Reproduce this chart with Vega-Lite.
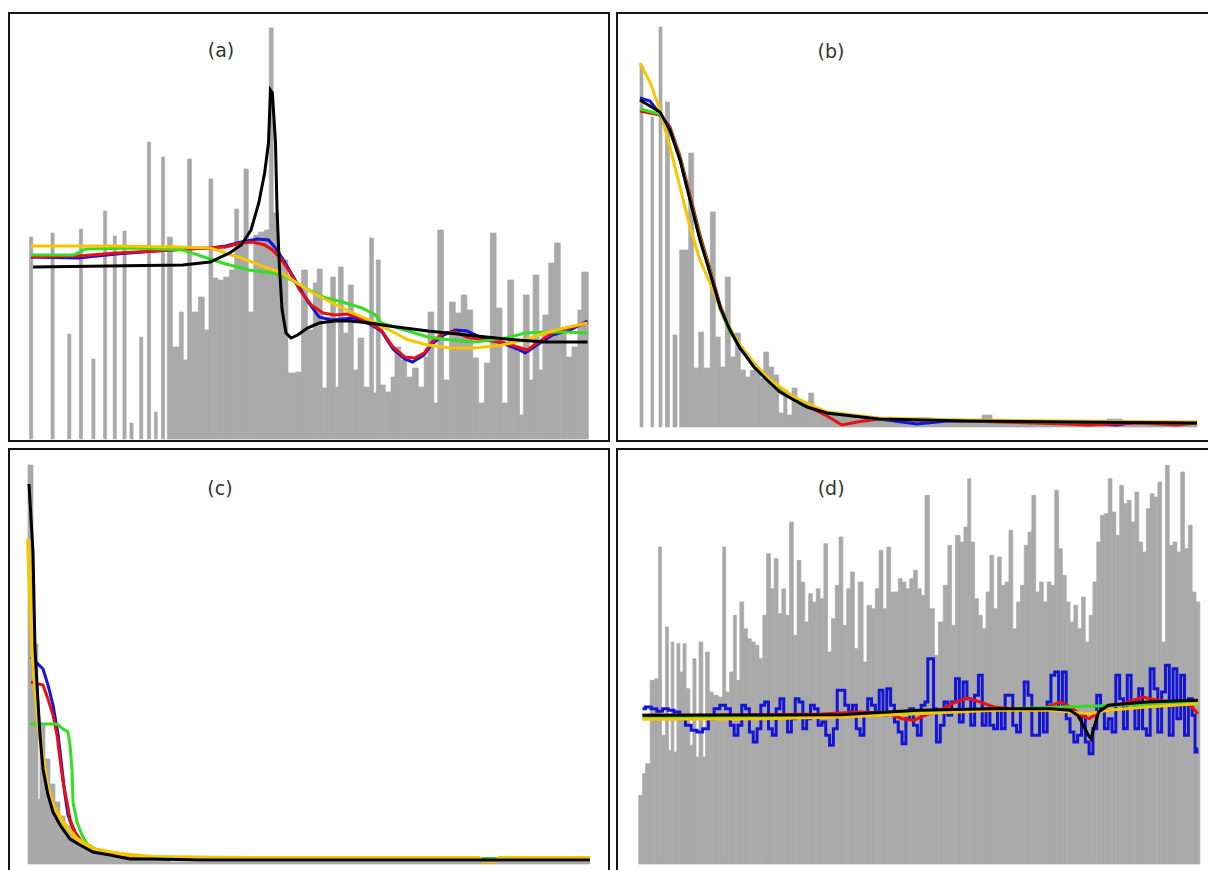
{
 "$schema": "https://vega.github.io/schema/vega-lite/v6.json",
 "background": "white",
 "padding": {"left": 8, "top": 12, "right": 0, "bottom": 0},
 "config": {"view": {"stroke": "#161616", "strokeWidth": 2}, "rect": {"color": "#a9a9a9", "stroke": "#a9a9a9", "strokeWidth": 0.7}},
 "spacing": 6,
 "resolve": {"scale": {"x": "independent", "y": "independent"}},
 "datasets": {
  "aB": [
   {"t":76,"t2":84,"v":202},{"t":131,"t2":139,"v":206},{"t":174,"t2":182,"v":105},{"t":204,"t2":212,"v":210},{"t":236,"t2":244,"v":80},{"t":266,"t2":274,"v":228},{"t":291,"t2":299,"v":203},{"t":316,"t2":324,"v":208},{"t":334,"t2":342,"v":16},{"t":359,"t2":367,"v":102},{"t":379,"t2":387,"v":297},{"t":397,"t2":404,"v":27},{"t":415,"t2":423,"v":282},
   {"t":430,"t2":443,"v":202},{"t":443,"t2":461,"v":92},{"t":461,"t2":471,"v":127},{"t":471,"t2":482,"v":79},{"t":482,"t2":492,"v":280},{"t":492,"t2":510,"v":127},{"t":510,"t2":525,"v":142},{"t":525,"t2":537,"v":109},{"t":537,"t2":547,"v":260},{"t":547,"t2":560,"v":161},
   {"t":560,"t2":575,"v":159},{"t":575,"t2":590,"v":162},{"t":590,"t2":603,"v":169},{"t":603,"t2":613,"v":230},{"t":613,"t2":627,"v":194},{"t":627,"t2":638,"v":270},{"t":638,"t2":652,"v":127},{"t":652,"t2":665,"v":204},{"t":665,"t2":680,"v":207},{"t":680,"t2":692,"v":209},{"t":692,"t2":702,"v":411},{"t":702,"t2":715,"v":226},{"t":715,"t2":728,"v":182},{"t":728,"t2":740,"v":179},{"t":740,"t2":760,"v":66},{"t":760,"t2":775,"v":67},{"t":775,"t2":790,"v":169},{"t":790,"t2":805,"v":109},{"t":805,"t2":815,"v":156},{"t":815,"t2":828,"v":170},{"t":828,"t2":840,"v":51},{"t":840,"t2":850,"v":122},{"t":850,"t2":862,"v":162},{"t":862,"t2":870,"v":52},{"t":870,"t2":882,"v":172},{"t":882,"t2":895,"v":106},{"t":895,"t2":908,"v":154},{"t":908,"t2":920,"v":69},{"t":920,"t2":935,"v":101},{"t":935,"t2":950,"v":52},{"t":950,"t2":960,"v":201},{"t":960,"t2":967,"v":46},{"t":967,"t2":977,"v":179},{"t":977,"t2":990,"v":54},{"t":990,"t2":1005,"v":47},{"t":1005,"t2":1015,"v":62},{"t":1015,"t2":1030,"v":92},{"t":1030,"t2":1045,"v":79},{"t":1045,"t2":1060,"v":62},{"t":1060,"t2":1075,"v":71},{"t":1075,"t2":1090,"v":52},{"t":1090,"t2":1100,"v":82},{"t":1100,"t2":1115,"v":127},{"t":1115,"t2":1125,"v":36},{"t":1125,"t2":1140,"v":209},{"t":1140,"t2":1155,"v":59},{"t":1155,"t2":1170,"v":137},{"t":1170,"t2":1185,"v":126},{"t":1185,"t2":1200,"v":144},{"t":1200,"t2":1215,"v":129},{"t":1215,"t2":1230,"v":81},{"t":1230,"t2":1245,"v":36},{"t":1245,"t2":1260,"v":76},{"t":1260,"t2":1275,"v":206},{"t":1275,"t2":1290,"v":131},{"t":1290,"t2":1305,"v":36},{"t":1305,"t2":1320,"v":159},{"t":1320,"t2":1335,"v":92},{"t":1335,"t2":1345,"v":24},{"t":1345,"t2":1360,"v":144},{"t":1360,"t2":1370,"v":59},{"t":1370,"t2":1385,"v":164},{"t":1385,"t2":1395,"v":69},{"t":1395,"t2":1410,"v":124},{"t":1410,"t2":1425,"v":176},{"t":1425,"t2":1440,"v":196},{"t":1440,"t2":1455,"v":106},{"t":1455,"t2":1470,"v":82},{"t":1470,"t2":1485,"v":92},{"t":1485,"t2":1495,"v":129},{"t":1495,"t2":1512,"v":167}
  ],
  "aL": [
   {"s":"b","t":80,"v":182},{"s":"b","t":200,"v":181},{"s":"b","t":300,"v":185},{"s":"b","t":400,"v":188},{"s":"b","t":480,"v":190},{"s":"b","t":540,"v":191},{"s":"b","t":580,"v":193},{"s":"b","t":620,"v":197},{"s":"b","t":660,"v":200},{"s":"b","t":690,"v":199},{"s":"b","t":710,"v":190},{"s":"b","t":730,"v":178},{"s":"b","t":760,"v":158},{"s":"b","t":790,"v":138},{"s":"b","t":820,"v":122},{"s":"b","t":850,"v":119},{"s":"b","t":880,"v":120},{"s":"b","t":910,"v":121},{"s":"b","t":950,"v":115},{"s":"b","t":980,"v":108},{"s":"b","t":1010,"v":90},{"s":"b","t":1040,"v":80},{"s":"b","t":1060,"v":77},{"s":"b","t":1090,"v":84},{"s":"b","t":1110,"v":95},{"s":"b","t":1140,"v":104},{"s":"b","t":1170,"v":109},{"s":"b","t":1200,"v":108},{"s":"b","t":1240,"v":101},{"s":"b","t":1290,"v":96},{"s":"b","t":1330,"v":90},{"s":"b","t":1350,"v":86},{"s":"b","t":1380,"v":94},{"s":"b","t":1420,"v":104},{"s":"b","t":1470,"v":110},{"s":"b","t":1510,"v":118},
   {"s":"r","t":80,"v":182},{"s":"r","t":200,"v":183},{"s":"r","t":300,"v":186},{"s":"r","t":400,"v":188},{"s":"r","t":480,"v":190},{"s":"r","t":540,"v":191},{"s":"r","t":580,"v":192},{"s":"r","t":620,"v":196},{"s":"r","t":650,"v":197},{"s":"r","t":680,"v":194},{"s":"r","t":700,"v":189},{"s":"r","t":720,"v":181},{"s":"r","t":745,"v":167},{"s":"r","t":770,"v":149},{"s":"r","t":800,"v":134},{"s":"r","t":830,"v":126},{"s":"r","t":860,"v":124},{"s":"r","t":890,"v":125},{"s":"r","t":920,"v":122},{"s":"r","t":950,"v":116},{"s":"r","t":980,"v":109},{"s":"r","t":1010,"v":92},{"s":"r","t":1040,"v":82},{"s":"r","t":1065,"v":81},{"s":"r","t":1090,"v":86},{"s":"r","t":1110,"v":97},{"s":"r","t":1140,"v":106},{"s":"r","t":1170,"v":107},{"s":"r","t":1200,"v":102},{"s":"r","t":1240,"v":99},{"s":"r","t":1290,"v":97},{"s":"r","t":1330,"v":92},{"s":"r","t":1355,"v":89},{"s":"r","t":1380,"v":96},{"s":"r","t":1420,"v":106},{"s":"r","t":1470,"v":112},{"s":"r","t":1510,"v":116},
   {"s":"g","t":80,"v":184},{"s":"g","t":190,"v":184},{"s":"g","t":220,"v":190},{"s":"g","t":350,"v":191},{"s":"g","t":470,"v":189},{"s":"g","t":540,"v":180},{"s":"g","t":580,"v":175},{"s":"g","t":640,"v":169},{"s":"g","t":700,"v":166},{"s":"g","t":740,"v":161},{"s":"g","t":780,"v":152},{"s":"g","t":830,"v":142},{"s":"g","t":880,"v":137},{"s":"g","t":930,"v":131},{"s":"g","t":965,"v":124},{"s":"g","t":980,"v":116},{"s":"g","t":1040,"v":109},{"s":"g","t":1100,"v":102},{"s":"g","t":1160,"v":99},{"s":"g","t":1220,"v":97},{"s":"g","t":1300,"v":101},{"s":"g","t":1350,"v":106},{"s":"g","t":1400,"v":107},{"s":"g","t":1450,"v":107},{"s":"g","t":1510,"v":106},
   {"s":"y","t":80,"v":193},{"s":"y","t":300,"v":193},{"s":"y","t":450,"v":192},{"s":"y","t":540,"v":191},{"s":"y","t":580,"v":186},{"s":"y","t":620,"v":181},{"s":"y","t":680,"v":172},{"s":"y","t":720,"v":167},{"s":"y","t":760,"v":157},{"s":"y","t":800,"v":147},{"s":"y","t":850,"v":137},{"s":"y","t":900,"v":127},{"s":"y","t":950,"v":119},{"s":"y","t":1000,"v":109},{"s":"y","t":1050,"v":99},{"s":"y","t":1100,"v":94},{"s":"y","t":1160,"v":91},{"s":"y","t":1220,"v":91},{"s":"y","t":1290,"v":94},{"s":"y","t":1350,"v":99},{"s":"y","t":1400,"v":106},{"s":"y","t":1450,"v":111},{"s":"y","t":1510,"v":116},
   {"s":"k","t":85,"v":172},{"s":"k","t":470,"v":174},{"s":"k","t":540,"v":177},{"s":"k","t":590,"v":186},{"s":"k","t":620,"v":194},{"s":"k","t":645,"v":209},{"s":"k","t":665,"v":236},{"s":"k","t":680,"v":266},{"s":"k","t":690,"v":296},{"s":"k","t":695,"v":349},{"s":"k","t":700,"v":346},{"s":"k","t":708,"v":296},{"s":"k","t":712,"v":229},{"s":"k","t":718,"v":172},{"s":"k","t":725,"v":129},{"s":"k","t":735,"v":106},{"s":"k","t":748,"v":101},{"s":"k","t":765,"v":104},{"s":"k","t":790,"v":111},{"s":"k","t":820,"v":116},{"s":"k","t":860,"v":118},{"s":"k","t":900,"v":118},{"s":"k","t":950,"v":116},{"s":"k","t":1000,"v":113},{"s":"k","t":1100,"v":108},{"s":"k","t":1200,"v":104},{"s":"k","t":1300,"v":100},{"s":"k","t":1400,"v":97},{"s":"k","t":1510,"v":97}
  ],
  "bB": [
   {"t":23,"t2":26,"v":362},{"t":34,"t2":36.7,"v":310},{"t":42,"t2":45,"v":400},{"t":48.5,"t2":52.5,"v":325},{"t":56,"t2":60,"v":92},{"t":62.7,"t2":71.7,"v":177},{"t":71.7,"t2":76.7,"v":274},{"t":76.7,"t2":81.7,"v":59},{"t":81.7,"t2":86.7,"v":95},{"t":86.7,"t2":93.3,"v":59},{"t":93.3,"t2":98.3,"v":215},{"t":98.3,"t2":103.3,"v":90},{"t":103.3,"t2":108.3,"v":60},{"t":108.3,"t2":113.3,"v":150},{"t":113.3,"t2":118.3,"v":70},{"t":118.3,"t2":123.3,"v":94},{"t":123.3,"t2":128.3,"v":57},{"t":128.3,"t2":133.3,"v":50},{"t":133.3,"t2":138.3,"v":57},{"t":138.3,"t2":143.3,"v":55},{"t":143.3,"t2":146.7,"v":49},{"t":146.7,"t2":151.7,"v":75},{"t":151.7,"t2":156.7,"v":60},{"t":156.7,"t2":161.7,"v":52},{"t":161.7,"t2":166.7,"v":14},{"t":166.7,"t2":170,"v":37},{"t":170,"t2":175,"v":12},{"t":175,"t2":180,"v":39},{"t":180,"t2":185,"v":27},{"t":185,"t2":191.7,"v":25},{"t":191.7,"t2":196.7,"v":34},{"t":196.7,"t2":201.7,"v":19},{"t":201.7,"t2":210,"v":16},{"t":210,"t2":225,"v":14},{"t":225,"t2":240,"v":10},{"t":240,"t2":260,"v":8},{"t":260,"t2":280,"v":7},{"t":280,"t2":300,"v":6},{"t":300,"t2":315,"v":9},{"t":315,"t2":330,"v":6},{"t":330,"t2":350,"v":5},{"t":350,"t2":365,"v":7},{"t":365,"t2":375,"v":12},{"t":375,"t2":395,"v":5},{"t":395,"t2":415,"v":6},{"t":415,"t2":435,"v":4},{"t":435,"t2":455,"v":6},{"t":455,"t2":475,"v":4},{"t":475,"t2":490,"v":5},{"t":490,"t2":505,"v":8},{"t":505,"t2":525,"v":4},{"t":525,"t2":545,"v":5},{"t":545,"t2":565,"v":6},{"t":565,"t2":580,"v":5}
  ],
  "bL": [
   {"s":"b","t":23,"v":329},{"s":"b","t":33,"v":326},{"s":"b","t":43,"v":313},{"s":"b","t":53,"v":296},{"s":"b","t":63,"v":268},{"s":"b","t":73,"v":229},{"s":"b","t":83,"v":189},{"s":"b","t":93,"v":156},{"s":"b","t":103,"v":121},{"s":"b","t":113,"v":97},{"s":"b","t":123,"v":79},{"s":"b","t":137,"v":61},{"s":"b","t":150,"v":48},{"s":"b","t":163,"v":36},{"s":"b","t":177,"v":28},{"s":"b","t":190,"v":21},{"s":"b","t":210,"v":14},{"s":"b","t":262,"v":8},{"s":"b","t":300,"v":3},{"s":"b","t":330,"v":6},{"s":"b","t":350,"v":6},{"s":"b","t":450,"v":5},{"s":"b","t":500,"v":2},{"s":"b","t":520,"v":5},{"s":"b","t":580,"v":4},
   {"s":"r","t":23,"v":316},{"s":"r","t":33,"v":314},{"s":"r","t":43,"v":312},{"s":"r","t":53,"v":300},{"s":"r","t":63,"v":271},{"s":"r","t":73,"v":232},{"s":"r","t":83,"v":192},{"s":"r","t":93,"v":158},{"s":"r","t":103,"v":122},{"s":"r","t":113,"v":98},{"s":"r","t":123,"v":80},{"s":"r","t":137,"v":62},{"s":"r","t":150,"v":48},{"s":"r","t":163,"v":37},{"s":"r","t":177,"v":29},{"s":"r","t":190,"v":21},{"s":"r","t":210,"v":11},{"s":"r","t":225,"v":2},{"s":"r","t":240,"v":5},{"s":"r","t":262,"v":8},{"s":"r","t":350,"v":6},{"s":"r","t":450,"v":3},{"s":"r","t":470,"v":2},{"s":"r","t":520,"v":4},{"s":"r","t":560,"v":2},{"s":"r","t":580,"v":4},
   {"s":"g","t":23,"v":318},{"s":"g","t":43,"v":313},{"s":"g","t":53,"v":297},{"s":"g","t":63,"v":268},{"s":"g","t":73,"v":228},{"s":"g","t":83,"v":188},{"s":"g","t":93,"v":156},{"s":"g","t":103,"v":118},{"s":"g","t":113,"v":95},{"s":"g","t":123,"v":80},{"s":"g","t":137,"v":60},{"s":"g","t":150,"v":48},{"s":"g","t":163,"v":36},{"s":"g","t":177,"v":27},{"s":"g","t":190,"v":21},{"s":"g","t":210,"v":14},{"s":"g","t":262,"v":8},{"s":"g","t":350,"v":6},{"s":"g","t":450,"v":5},{"s":"g","t":580,"v":4},
   {"s":"y","t":23,"v":364},{"s":"y","t":33,"v":345},{"s":"y","t":43,"v":317},{"s":"y","t":53,"v":280},{"s":"y","t":63,"v":240},{"s":"y","t":73,"v":200},{"s":"y","t":83,"v":167},{"s":"y","t":93,"v":144},{"s":"y","t":103,"v":120},{"s":"y","t":113,"v":99},{"s":"y","t":123,"v":82},{"s":"y","t":137,"v":64},{"s":"y","t":150,"v":50},{"s":"y","t":163,"v":40},{"s":"y","t":177,"v":30},{"s":"y","t":190,"v":24},{"s":"y","t":210,"v":15},{"s":"y","t":262,"v":9},{"s":"y","t":350,"v":7},{"s":"y","t":450,"v":6},{"s":"y","t":580,"v":5},
   {"s":"k","t":23,"v":327},{"s":"k","t":43,"v":315},{"s":"k","t":53,"v":297},{"s":"k","t":63,"v":267},{"s":"k","t":73,"v":227},{"s":"k","t":83,"v":187},{"s":"k","t":93,"v":154},{"s":"k","t":103,"v":120},{"s":"k","t":113,"v":97},{"s":"k","t":123,"v":79},{"s":"k","t":137,"v":60},{"s":"k","t":150,"v":47},{"s":"k","t":163,"v":35},{"s":"k","t":177,"v":27},{"s":"k","t":190,"v":20},{"s":"k","t":210,"v":14},{"s":"k","t":262,"v":8},{"s":"k","t":350,"v":6},{"s":"k","t":450,"v":5},{"s":"k","t":580,"v":4}
  ],
  "cB": [
   {"t":19,"t2":24,"v":399},{"t":24,"t2":29,"v":220},{"t":29,"t2":31,"v":65},{"t":31,"t2":36,"v":140},{"t":36,"t2":41,"v":105},{"t":41,"t2":46,"v":80},{"t":46,"t2":51,"v":62},{"t":51,"t2":56,"v":48},{"t":56,"t2":61,"v":38},{"t":61,"t2":66,"v":30},{"t":66,"t2":71,"v":24},{"t":71,"t2":77,"v":19},{"t":77,"t2":83,"v":15},{"t":83,"t2":91,"v":12},{"t":91,"t2":101,"v":9},{"t":101,"t2":116,"v":7},{"t":116,"t2":136,"v":5},{"t":136,"t2":161,"v":4},{"t":161,"t2":581,"v":2}
  ],
  "cL": [
   {"s":"b","t":22,"v":207},{"s":"b","t":34,"v":195},{"s":"b","t":39,"v":179},{"s":"b","t":44,"v":159},{"s":"b","t":49,"v":130},{"s":"b","t":53,"v":95},{"s":"b","t":56,"v":69},{"s":"b","t":59,"v":49},{"s":"b","t":64,"v":35},{"s":"b","t":71,"v":24},{"s":"b","t":84,"v":14},{"s":"b","t":111,"v":9},{"s":"b","t":144,"v":6},{"s":"b","t":581,"v":5},
   {"s":"r","t":22,"v":182},{"s":"r","t":34,"v":179},{"s":"r","t":39,"v":165},{"s":"r","t":44,"v":149},{"s":"r","t":48,"v":129},{"s":"r","t":51,"v":105},{"s":"r","t":54,"v":82},{"s":"r","t":58,"v":62},{"s":"r","t":61,"v":45},{"s":"r","t":66,"v":32},{"s":"r","t":73,"v":22},{"s":"r","t":84,"v":14},{"s":"r","t":111,"v":9},{"s":"r","t":144,"v":6},{"s":"r","t":581,"v":5},
   {"s":"g","t":21,"v":140},{"s":"g","t":48,"v":140},{"s":"g","t":54,"v":135},{"s":"g","t":59,"v":132},{"s":"g","t":61,"v":119},{"s":"g","t":63,"v":95},{"s":"g","t":64,"v":62},{"s":"g","t":68,"v":42},{"s":"g","t":73,"v":29},{"s":"g","t":78,"v":20},{"s":"g","t":88,"v":14},{"s":"g","t":111,"v":10},{"s":"g","t":144,"v":7},{"s":"g","t":581,"v":5},
   {"s":"y","t":19,"v":325},{"s":"y","t":21,"v":269},{"s":"y","t":24,"v":205},{"s":"y","t":29,"v":145},{"s":"y","t":33,"v":112},{"s":"y","t":38,"v":79},{"s":"y","t":44,"v":59},{"s":"y","t":54,"v":42},{"s":"y","t":68,"v":25},{"s":"y","t":84,"v":15},{"s":"y","t":111,"v":10},{"s":"y","t":144,"v":7},{"s":"y","t":200,"v":6},{"s":"y","t":300,"v":6},{"s":"y","t":400,"v":6},{"s":"y","t":470,"v":6},{"s":"y","t":474,"v":3},{"s":"y","t":486,"v":3},{"s":"y","t":490,"v":6},{"s":"y","t":581,"v":6},
   {"s":"k","t":20,"v":380},{"s":"k","t":24,"v":312},{"s":"k","t":26,"v":215},{"s":"k","t":28,"v":179},{"s":"k","t":31,"v":129},{"s":"k","t":34,"v":95},{"s":"k","t":39,"v":69},{"s":"k","t":44,"v":52},{"s":"k","t":51,"v":39},{"s":"k","t":61,"v":25},{"s":"k","t":71,"v":19},{"s":"k","t":84,"v":12},{"s":"k","t":101,"v":9},{"s":"k","t":121,"v":5},{"s":"k","t":144,"v":5},{"s":"k","t":191,"v":4},{"s":"k","t":300,"v":4},{"s":"k","t":400,"v":4},{"s":"k","t":500,"v":4},{"s":"k","t":581,"v":4}
  ],
  "dB": [
   {"t":70,"t2":80,"v":206},{"t":80,"t2":88,"v":271},{"t":88,"t2":100,"v":301},{"t":100,"t2":112,"v":551},{"t":112,"t2":122,"v":556},{"t":122,"t2":130,"v":951},{"t":130,"t2":140,"v":386},{"t":140,"t2":148,"v":711},{"t":148,"t2":155,"v":341},{"t":155,"t2":162,"v":666},{"t":162,"t2":170,"v":336},{"t":170,"t2":178,"v":661},{"t":178,"t2":186,"v":576},{"t":186,"t2":194,"v":661},{"t":194,"t2":204,"v":526},{"t":204,"t2":212,"v":356},{"t":212,"t2":220,"v":616},{"t":220,"t2":228,"v":321},{"t":228,"t2":238,"v":666},{"t":238,"t2":245,"v":321},{"t":245,"t2":255,"v":636},{"t":255,"t2":265,"v":516},{"t":265,"t2":278,"v":506},{"t":278,"t2":290,"v":501},{"t":290,"t2":298,"v":951},{"t":298,"t2":308,"v":516},{"t":308,"t2":318,"v":576},{"t":318,"t2":326,"v":746},{"t":326,"t2":335,"v":551},{"t":335,"t2":345,"v":786},{"t":345,"t2":355,"v":706},{"t":355,"t2":365,"v":676},{"t":365,"t2":375,"v":666},{"t":375,"t2":385,"v":656},{"t":385,"t2":395,"v":616},{"t":395,"t2":405,"v":746},{"t":405,"t2":415,"v":931},{"t":415,"t2":425,"v":826},{"t":425,"t2":435,"v":916},{"t":435,"t2":445,"v":751},{"t":445,"t2":455,"v":826},{"t":455,"t2":465,"v":746},{"t":465,"t2":475,"v":1026},{"t":475,"t2":485,"v":686},{"t":485,"t2":495,"v":911},{"t":495,"t2":505,"v":846},{"t":505,"t2":515,"v":726},{"t":515,"t2":525,"v":811},{"t":525,"t2":535,"v":786},{"t":535,"t2":545,"v":826},{"t":545,"t2":555,"v":796},{"t":555,"t2":565,"v":961},{"t":565,"t2":575,"v":636},{"t":575,"t2":585,"v":736},{"t":585,"t2":595,"v":836},{"t":595,"t2":605,"v":981},{"t":605,"t2":615,"v":716},{"t":615,"t2":625,"v":826},{"t":625,"t2":635,"v":876},{"t":635,"t2":645,"v":646},{"t":645,"t2":658,"v":846},{"t":658,"t2":668,"v":606},{"t":668,"t2":680,"v":776},{"t":680,"t2":690,"v":766},{"t":690,"t2":700,"v":826},{"t":700,"t2":710,"v":941},{"t":710,"t2":720,"v":766},{"t":720,"t2":730,"v":951},{"t":730,"t2":740,"v":816},{"t":740,"t2":750,"v":816},{"t":750,"t2":760,"v":856},{"t":760,"t2":770,"v":846},{"t":770,"t2":780,"v":826},{"t":780,"t2":790,"v":856},{"t":790,"t2":800,"v":881},{"t":800,"t2":810,"v":826},{"t":810,"t2":820,"v":806},{"t":820,"t2":832,"v":1106},{"t":832,"t2":845,"v":766},{"t":845,"t2":855,"v":626},{"t":855,"t2":868,"v":726},{"t":868,"t2":880,"v":836},{"t":880,"t2":890,"v":956},{"t":890,"t2":900,"v":716},{"t":900,"t2":912,"v":986},{"t":912,"t2":922,"v":966},{"t":922,"t2":932,"v":1011},{"t":932,"t2":940,"v":1156},{"t":940,"t2":950,"v":966},{"t":950,"t2":960,"v":796},{"t":960,"t2":970,"v":746},{"t":970,"t2":980,"v":706},{"t":980,"t2":990,"v":816},{"t":990,"t2":1000,"v":926},{"t":1000,"t2":1010,"v":766},{"t":1010,"t2":1020,"v":921},{"t":1020,"t2":1030,"v":836},{"t":1030,"t2":1040,"v":846},{"t":1040,"t2":1050,"v":1001},{"t":1050,"t2":1060,"v":706},{"t":1060,"t2":1070,"v":786},{"t":1070,"t2":1080,"v":836},{"t":1080,"t2":1090,"v":956},{"t":1090,"t2":1100,"v":996},{"t":1100,"t2":1110,"v":1106},{"t":1110,"t2":1120,"v":816},{"t":1120,"t2":1130,"v":846},{"t":1130,"t2":1140,"v":786},{"t":1140,"t2":1150,"v":846},{"t":1150,"t2":1160,"v":836},{"t":1160,"t2":1170,"v":1121},{"t":1170,"t2":1180,"v":946},{"t":1180,"t2":1190,"v":866},{"t":1190,"t2":1200,"v":786},{"t":1200,"t2":1210,"v":726},{"t":1210,"t2":1220,"v":776},{"t":1220,"t2":1230,"v":706},{"t":1230,"t2":1240,"v":801},{"t":1240,"t2":1250,"v":666},{"t":1250,"t2":1260,"v":746},{"t":1260,"t2":1270,"v":846},{"t":1270,"t2":1280,"v":966},{"t":1280,"t2":1290,"v":1046},{"t":1290,"t2":1300,"v":1051},{"t":1300,"t2":1310,"v":1156},{"t":1310,"t2":1320,"v":1056},{"t":1320,"t2":1330,"v":986},{"t":1330,"t2":1340,"v":1136},{"t":1340,"t2":1350,"v":1081},{"t":1350,"t2":1360,"v":1091},{"t":1360,"t2":1370,"v":1026},{"t":1370,"t2":1380,"v":1116},{"t":1380,"t2":1390,"v":966},{"t":1390,"t2":1400,"v":936},{"t":1400,"t2":1410,"v":1066},{"t":1410,"t2":1420,"v":1111},{"t":1420,"t2":1430,"v":1101},{"t":1430,"t2":1440,"v":1146},{"t":1440,"t2":1450,"v":666},{"t":1450,"t2":1460,"v":1196},{"t":1460,"t2":1470,"v":956},{"t":1470,"t2":1480,"v":966},{"t":1480,"t2":1490,"v":936},{"t":1490,"t2":1500,"v":1176},{"t":1500,"t2":1510,"v":946},{"t":1510,"t2":1520,"v":1016},{"t":1520,"t2":1530,"v":816},{"t":1530,"t2":1540,"v":786}
  ],
  "dL": [
   {"s":"b","t":80,"v":466},{"s":"b","t":95,"v":471},{"s":"b","t":110,"v":466},{"s":"b","t":125,"v":458},{"s":"b","t":140,"v":466},{"s":"b","t":155,"v":461},{"s":"b","t":170,"v":456},{"s":"b","t":185,"v":436},{"s":"b","t":200,"v":416},{"s":"b","t":215,"v":401},{"s":"b","t":230,"v":396},{"s":"b","t":245,"v":406},{"s":"b","t":260,"v":436},{"s":"b","t":275,"v":466},{"s":"b","t":290,"v":476},{"s":"b","t":305,"v":466},{"s":"b","t":315,"v":416},{"s":"b","t":325,"v":386},{"s":"b","t":335,"v":416},{"s":"b","t":345,"v":476},{"s":"b","t":355,"v":466},{"s":"b","t":365,"v":396},{"s":"b","t":375,"v":366},{"s":"b","t":385,"v":406},{"s":"b","t":395,"v":476},{"s":"b","t":405,"v":486},{"s":"b","t":415,"v":406},{"s":"b","t":425,"v":386},{"s":"b","t":435,"v":466},{"s":"b","t":445,"v":496},{"s":"b","t":455,"v":446},{"s":"b","t":465,"v":396},{"s":"b","t":475,"v":436},{"s":"b","t":485,"v":496},{"s":"b","t":495,"v":486},{"s":"b","t":505,"v":406},{"s":"b","t":515,"v":436},{"s":"b","t":525,"v":476},{"s":"b","t":535,"v":466},{"s":"b","t":545,"v":416},{"s":"b","t":555,"v":426},{"s":"b","t":565,"v":386},{"s":"b","t":575,"v":356},{"s":"b","t":585,"v":406},{"s":"b","t":595,"v":521},{"s":"b","t":605,"v":521},{"s":"b","t":615,"v":476},{"s":"b","t":625,"v":456},{"s":"b","t":635,"v":476},{"s":"b","t":645,"v":406},{"s":"b","t":655,"v":386},{"s":"b","t":665,"v":446},{"s":"b","t":675,"v":496},{"s":"b","t":685,"v":476},{"s":"b","t":695,"v":456},{"s":"b","t":705,"v":521},{"s":"b","t":715,"v":446},{"s":"b","t":725,"v":526},{"s":"b","t":735,"v":476},{"s":"b","t":745,"v":426},{"s":"b","t":755,"v":396},{"s":"b","t":765,"v":361},{"s":"b","t":775,"v":436},{"s":"b","t":785,"v":466},{"s":"b","t":795,"v":416},{"s":"b","t":805,"v":386},{"s":"b","t":815,"v":476},{"s":"b","t":825,"v":486},{"s":"b","t":830,"v":616},{"s":"b","t":840,"v":616},{"s":"b","t":845,"v":466},{"s":"b","t":855,"v":366},{"s":"b","t":865,"v":416},{"s":"b","t":875,"v":486},{"s":"b","t":885,"v":446},{"s":"b","t":895,"v":486},{"s":"b","t":905,"v":556},{"s":"b","t":915,"v":426},{"s":"b","t":925,"v":546},{"s":"b","t":935,"v":496},{"s":"b","t":945,"v":416},{"s":"b","t":955,"v":506},{"s":"b","t":965,"v":566},{"s":"b","t":975,"v":416},{"s":"b","t":985,"v":466},{"s":"b","t":995,"v":416},{"s":"b","t":1005,"v":406},{"s":"b","t":1015,"v":466},{"s":"b","t":1025,"v":406},{"s":"b","t":1035,"v":506},{"s":"b","t":1045,"v":506},{"s":"b","t":1055,"v":416},{"s":"b","t":1065,"v":396},{"s":"b","t":1075,"v":466},{"s":"b","t":1085,"v":546},{"s":"b","t":1095,"v":506},{"s":"b","t":1105,"v":386},{"s":"b","t":1115,"v":386},{"s":"b","t":1125,"v":466},{"s":"b","t":1135,"v":396},{"s":"b","t":1145,"v":486},{"s":"b","t":1155,"v":566},{"s":"b","t":1165,"v":576},{"s":"b","t":1175,"v":466},{"s":"b","t":1185,"v":576},{"s":"b","t":1195,"v":436},{"s":"b","t":1205,"v":396},{"s":"b","t":1215,"v":366},{"s":"b","t":1225,"v":386},{"s":"b","t":1235,"v":446},{"s":"b","t":1245,"v":366},{"s":"b","t":1255,"v":331},{"s":"b","t":1265,"v":406},{"s":"b","t":1275,"v":506},{"s":"b","t":1285,"v":466},{"s":"b","t":1295,"v":406},{"s":"b","t":1305,"v":436},{"s":"b","t":1315,"v":396},{"s":"b","t":1325,"v":566},{"s":"b","t":1335,"v":496},{"s":"b","t":1345,"v":406},{"s":"b","t":1355,"v":566},{"s":"b","t":1365,"v":486},{"s":"b","t":1375,"v":406},{"s":"b","t":1385,"v":526},{"s":"b","t":1395,"v":406},{"s":"b","t":1405,"v":386},{"s":"b","t":1415,"v":586},{"s":"b","t":1425,"v":526},{"s":"b","t":1435,"v":396},{"s":"b","t":1445,"v":516},{"s":"b","t":1455,"v":596},{"s":"b","t":1465,"v":386},{"s":"b","t":1475,"v":586},{"s":"b","t":1485,"v":436},{"s":"b","t":1495,"v":566},{"s":"b","t":1505,"v":386},{"s":"b","t":1515,"v":496},{"s":"b","t":1525,"v":446},{"s":"b","t":1530,"v":336},{"s":"b","t":1535,"v":346},
   {"s":"r","t":80,"v":446},{"s":"r","t":300,"v":446},{"s":"r","t":550,"v":450},{"s":"r","t":650,"v":456},{"s":"r","t":720,"v":452},{"s":"r","t":760,"v":436},{"s":"r","t":790,"v":431},{"s":"r","t":820,"v":446},{"s":"r","t":860,"v":461},{"s":"r","t":900,"v":486},{"s":"r","t":930,"v":498},{"s":"r","t":960,"v":488},{"s":"r","t":1000,"v":471},{"s":"r","t":1050,"v":466},{"s":"r","t":1100,"v":461},{"s":"r","t":1140,"v":471},{"s":"r","t":1175,"v":486},{"s":"r","t":1200,"v":471},{"s":"r","t":1230,"v":446},{"s":"r","t":1250,"v":436},{"s":"r","t":1270,"v":451},{"s":"r","t":1300,"v":476},{"s":"r","t":1340,"v":481},{"s":"r","t":1390,"v":501},{"s":"r","t":1430,"v":491},{"s":"r","t":1470,"v":486},{"s":"r","t":1500,"v":486},{"s":"r","t":1520,"v":471},{"s":"r","t":1535,"v":451},
   {"s":"g","t":80,"v":438},{"s":"g","t":600,"v":446},{"s":"g","t":1000,"v":464},{"s":"g","t":1535,"v":484},
   {"s":"y","t":80,"v":434},{"s":"y","t":400,"v":436},{"s":"y","t":600,"v":441},{"s":"y","t":800,"v":451},{"s":"y","t":1000,"v":461},{"s":"y","t":1150,"v":461},{"s":"y","t":1250,"v":451},{"s":"y","t":1300,"v":461},{"s":"y","t":1400,"v":471},{"s":"y","t":1535,"v":481},
   {"s":"k","t":80,"v":446},{"s":"k","t":300,"v":447},{"s":"k","t":600,"v":448},{"s":"k","t":800,"v":461},{"s":"k","t":1000,"v":466},{"s":"k","t":1150,"v":466},{"s":"k","t":1200,"v":461},{"s":"k","t":1220,"v":446},{"s":"k","t":1235,"v":416},{"s":"k","t":1248,"v":386},{"s":"k","t":1255,"v":376},{"s":"k","t":1262,"v":406},{"s":"k","t":1275,"v":456},{"s":"k","t":1300,"v":476},{"s":"k","t":1400,"v":486},{"s":"k","t":1535,"v":491}
  ]
 },
 "vconcat": [
  {
   "spacing": 6,
   "resolve": {"scale": {"x": "independent", "y": "independent"}},
   "hconcat": [
    {
     "width": 600, "height": 428,
     "encoding": {
      "x": {"field": "t", "type": "quantitative", "scale": {"domain": [23.1, 1565.1], "nice": false, "zero": false}, "axis": null},
      "y": {"field": "v", "type": "quantitative", "scale": {"domain": [-2, 426], "nice": false, "zero": false}, "axis": null}
     },
     "layer": [
      {"data": {"name": "aB"}, "mark": {"type": "rect"}, "encoding": {"x2": {"field": "t2"}, "y2": {"datum": 0}}},
      {"data": {"name": "aL"}, "transform": [{"filter": "datum.s=='b'"}], "mark": {"type": "line", "color": "#1414d8", "strokeWidth": 3}},
      {"data": {"name": "aL"}, "transform": [{"filter": "datum.s=='r'"}], "mark": {"type": "line", "color": "#e81010", "strokeWidth": 3}},
      {"data": {"name": "aL"}, "transform": [{"filter": "datum.s=='g'"}], "mark": {"type": "line", "color": "#33dd22", "strokeWidth": 3}},
      {"data": {"name": "aL"}, "transform": [{"filter": "datum.s=='y'"}], "mark": {"type": "line", "color": "#f7c600", "strokeWidth": 3}},
      {"data": {"name": "aL"}, "transform": [{"filter": "datum.s=='k'"}], "mark": {"type": "line", "color": "#000000", "strokeWidth": 3}},
      {"data": {"values": [{"t": 568, "v": 388, "label": "(a)"}]}, "mark": {"type": "text", "font": "DejaVu Sans", "fontSize": 19, "color": "#333333", "align": "center", "baseline": "middle"}, "encoding": {"text": {"field": "label"}}}
     ]
    },
    {
     "width": 592, "height": 428,
     "encoding": {
      "x": {"field": "t", "type": "quantitative", "scale": {"domain": [0, 592], "nice": false, "zero": false}, "axis": null},
      "y": {"field": "v", "type": "quantitative", "scale": {"domain": [-14, 414], "nice": false, "zero": false}, "axis": null}
     },
     "layer": [
      {"data": {"name": "bB"}, "mark": {"type": "rect"}, "encoding": {"x2": {"field": "t2"}, "y2": {"datum": 0}}},
      {"data": {"name": "bL"}, "transform": [{"filter": "datum.s=='b'"}], "mark": {"type": "line", "color": "#1414d8", "strokeWidth": 3}},
      {"data": {"name": "bL"}, "transform": [{"filter": "datum.s=='r'"}], "mark": {"type": "line", "color": "#e81010", "strokeWidth": 3}},
      {"data": {"name": "bL"}, "transform": [{"filter": "datum.s=='g'"}], "mark": {"type": "line", "color": "#33dd22", "strokeWidth": 3}},
      {"data": {"name": "bL"}, "transform": [{"filter": "datum.s=='y'"}], "mark": {"type": "line", "color": "#f7c600", "strokeWidth": 3}},
      {"data": {"name": "bL"}, "transform": [{"filter": "datum.s=='k'"}], "mark": {"type": "line", "color": "#000000", "strokeWidth": 3}},
      {"data": {"values": [{"t": 214, "v": 375, "label": "(b)"}]}, "mark": {"type": "text", "font": "DejaVu Sans", "fontSize": 19, "color": "#333333", "align": "center", "baseline": "middle"}, "encoding": {"text": {"field": "label"}}}
     ]
    }
   ]
  },
  {
   "spacing": 6,
   "resolve": {"scale": {"x": "independent", "y": "independent"}},
   "hconcat": [
    {
     "width": 600, "height": 422,
     "encoding": {
      "x": {"field": "t", "type": "quantitative", "scale": {"domain": [0, 600], "nice": false, "zero": false}, "axis": null},
      "y": {"field": "v", "type": "quantitative", "scale": {"domain": [-7, 415], "nice": false, "zero": false}, "axis": null}
     },
     "layer": [
      {"data": {"name": "cB"}, "mark": {"type": "rect"}, "encoding": {"x2": {"field": "t2"}, "y2": {"datum": 0}}},
      {"data": {"name": "cL"}, "transform": [{"filter": "datum.s=='b'"}], "mark": {"type": "line", "color": "#1414d8", "strokeWidth": 3}},
      {"data": {"name": "cL"}, "transform": [{"filter": "datum.s=='r'"}], "mark": {"type": "line", "color": "#e81010", "strokeWidth": 3}},
      {"data": {"name": "cL"}, "transform": [{"filter": "datum.s=='g'"}], "mark": {"type": "line", "color": "#33dd22", "strokeWidth": 3}},
      {"data": {"name": "cL"}, "transform": [{"filter": "datum.s=='y'"}], "mark": {"type": "line", "color": "#f7c600", "strokeWidth": 4}},
      {"data": {"name": "cL"}, "transform": [{"filter": "datum.s=='k'"}], "mark": {"type": "line", "color": "#000000", "strokeWidth": 3}},
      {"data": {"values": [{"t": 211, "v": 375, "label": "(c)"}]}, "mark": {"type": "text", "font": "DejaVu Sans", "fontSize": 19, "color": "#333333", "align": "center", "baseline": "middle"}, "encoding": {"text": {"field": "label"}}}
     ]
    },
    {
     "width": 592, "height": 422,
     "encoding": {
      "x": {"field": "t", "type": "quantitative", "scale": {"domain": [13.1, 1564.1], "nice": false, "zero": false}, "axis": null},
      "y": {"field": "v", "type": "quantitative", "scale": {"domain": [-21, 1245], "nice": false, "zero": false}, "axis": null}
     },
     "layer": [
      {"data": {"name": "dB"}, "mark": {"type": "rect"}, "encoding": {"x2": {"field": "t2"}, "y2": {"datum": 0}}},
      {"data": {"name": "dL"}, "transform": [{"filter": "datum.s=='b'"}], "mark": {"type": "line", "color": "#1414d8", "strokeWidth": 3, "interpolate": "step"}},
      {"data": {"name": "dL"}, "transform": [{"filter": "datum.s=='r'"}], "mark": {"type": "line", "color": "#e81010", "strokeWidth": 3}},
      {"data": {"name": "dL"}, "transform": [{"filter": "datum.s=='g'"}], "mark": {"type": "line", "color": "#33dd22", "strokeWidth": 3}},
      {"data": {"name": "dL"}, "transform": [{"filter": "datum.s=='y'"}], "mark": {"type": "line", "color": "#f7c600", "strokeWidth": 3}},
      {"data": {"name": "dL"}, "transform": [{"filter": "datum.s=='k'"}], "mark": {"type": "line", "color": "#000000", "strokeWidth": 3}},
      {"data": {"values": [{"t": 574, "v": 1125, "label": "(d)"}]}, "mark": {"type": "text", "font": "DejaVu Sans", "fontSize": 19, "color": "#333333", "align": "center", "baseline": "middle"}, "encoding": {"text": {"field": "label"}}}
     ]
    }
   ]
  }
 ]
}
